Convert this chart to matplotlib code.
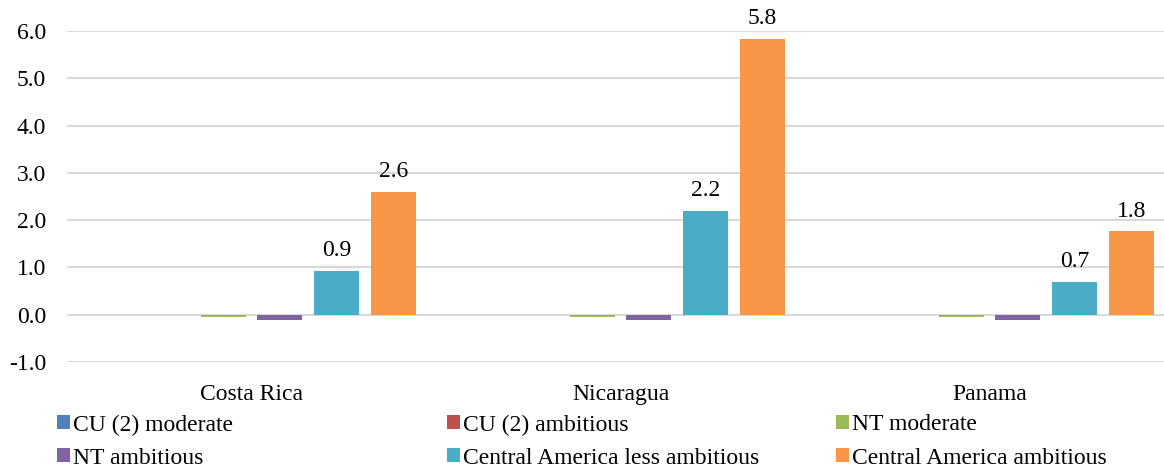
import matplotlib
matplotlib.use("Agg")
import matplotlib.pyplot as plt
from matplotlib.patches import Patch
import numpy as np

plt.rcParams["font.family"] = ["Liberation Serif", "DejaVu Serif"]

categories = ["Costa Rica", "Nicaragua", "Panama"]
series_names = [
    "CU (2) moderate",
    "CU (2) ambitious",
    "NT moderate",
    "NT ambitious",
    "Central America less ambitious",
    "Central America ambitious",
]
cu_moderate = [0.0, 0.0, 0.0]
cu_ambitious = [0.0, 0.0, 0.0]
nt_moderate = [-0.05, -0.05, -0.05]
nt_ambitious = [-0.11, -0.11, -0.11]
ca_less_ambitious = [0.93, 2.19, 0.69]
ca_ambitious = [2.60, 5.84, 1.76]
yticks = [-1.0, 0.0, 1.0, 2.0, 3.0, 4.0, 5.0, 6.0]

series_values = [cu_moderate, cu_ambitious, nt_moderate, nt_ambitious,
                 ca_less_ambitious, ca_ambitious]
colors = ["#4F81BD", "#C0504D", "#9BBB59", "#8064A2", "#4BACC6", "#F79646"]
labelled = {4, 5}
FS = 17

W, H = 1164, 470
fig = plt.figure(figsize=(W / 100, H / 100), dpi=100)
ax = fig.add_axes([67 / W, 1 - 362 / H, 1107 / W, (362 - 31) / H])

x = np.arange(len(categories))
slot = 0.154
bw = 0.122
for i, (vals, col) in enumerate(zip(series_values, colors)):
    pos = x + (i - 2.5) * slot
    bars = ax.bar(pos, vals, width=bw, color=col, zorder=3, linewidth=0)
    if i in labelled:
        for b, v in zip(bars, vals):
            ax.annotate(f"{v:.1f}", (b.get_x() + b.get_width() / 2, v),
                        xytext=(0, 7), textcoords="offset points",
                        ha="center", va="bottom", fontsize=FS, color="#000000")

ax.set_xlim(-0.5, len(categories) - 0.5)
ax.set_ylim(-1.0, 6.0)
ax.set_yticks(yticks)
ax.set_yticklabels([f"{t:.1f}" for t in yticks])
ax.set_xticks(x)
ax.set_xticklabels(categories)
ax.yaxis.grid(True, color="#D9D9D9", linewidth=1.5, zorder=0)
ax.set_axisbelow(True)
for s in ax.spines.values():
    s.set_visible(False)
ax.tick_params(axis="y", length=0, pad=15, labelsize=FS, labelcolor="#000000")
ax.tick_params(axis="x", length=0, pad=16, labelsize=FS, labelcolor="#000000")

# Legend laid out as a 3-column grid of individual entries
col_x = [57, 447, 836]
row_y = [425, 458]
for i, (name, col) in enumerate(zip(series_names, colors)):
    h = Patch(facecolor=col, edgecolor="none")
    fig.legend(handles=[h], labels=[name], loc="center left",
               bbox_to_anchor=(col_x[i % 3] / W, 1 - row_y[i // 3] / H),
               frameon=False, fontsize=FS, handlelength=0.55, handleheight=0.55,
               handletextpad=0.12, borderpad=0, borderaxespad=0)

fig.savefig("out.png", dpi=100)
